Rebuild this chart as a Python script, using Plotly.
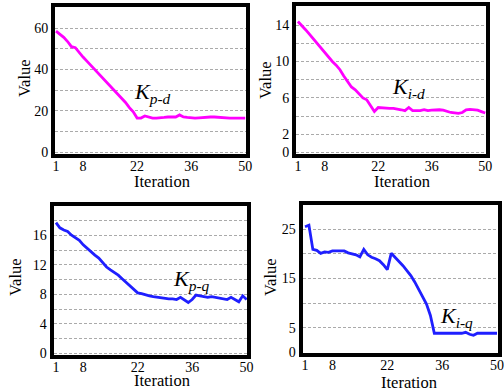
import plotly.graph_objects as go

W, H = 504, 389

iterations = list(range(1, 51))

kp_d = [58.5, 57.0, 55.5, 53.5, 51.0, 50.5, 48.0, 46.0, 44.0, 42.0,
        40.0, 38.0, 36.0, 34.5, 32.5, 30.5, 28.0, 26.0, 24.0, 21.5,
        19.5, 16.5, 16.5, 17.5, 17.0, 16.5, 16.5, 16.8, 16.8, 17.0,
        17.0, 17.0, 18.0, 17.0, 16.8, 16.5, 16.5, 16.6, 16.8, 16.8,
        17.0, 17.0, 16.8, 16.6, 16.6, 16.5, 16.5, 16.5, 16.5, 16.5]

ki_d = [14.4, 14.0, 13.5, 13.0, 12.5, 12.0, 11.5, 10.9, 10.5, 10.0,
        9.6, 9.1, 8.4, 7.8, 7.2, 6.9, 6.4, 6.0, 5.8, 5.2,
        4.5, 4.95, 4.9, 4.9, 4.85, 4.85, 4.8, 4.7, 4.6, 4.95,
        4.6, 4.6, 4.6, 4.7, 4.6, 4.65, 4.7, 4.7, 4.65, 4.5,
        4.4, 4.35, 4.3, 4.4, 4.7, 4.75, 4.7, 4.65, 4.5, 4.35]

kp_q = [17.7, 17.0, 16.7, 16.5, 16.0, 15.6, 15.3, 14.7, 14.2, 13.7,
        13.3, 12.9, 12.3, 11.7, 11.3, 11.0, 10.6, 10.1, 9.6, 9.1,
        8.6, 8.2, 8.1, 8.0, 7.8, 7.7, 7.6, 7.5, 7.5, 7.4,
        7.4, 7.3, 7.6, 7.3, 6.9, 7.3, 7.9, 7.8, 7.7, 7.6,
        7.7, 7.6, 7.6, 7.4, 7.3, 7.6, 7.3, 7.0, 7.8, 7.3]

ki_q = [25.5, 25.8, 20.9, 20.7, 20.1, 20.4, 20.3, 20.6, 20.6, 20.6,
        20.6, 20.2, 20.0, 19.8, 19.4, 20.9, 19.8, 19.3, 19.0, 18.6,
        17.8, 16.8, 20.1, 19.3, 18.5, 17.6, 16.6, 15.6, 14.3, 12.9,
        11.4, 9.8, 7.5, 3.9, 3.9, 3.9, 3.9, 3.85, 3.85, 3.8,
        3.9, 4.1, 3.7, 3.5, 3.9, 3.9, 3.9, 3.9, 3.9, 3.9]

x_tickvals = [1, 8, 22, 36, 50]
x_ticktext = ["1", "8", "22", "36", "50"]

y1_vals = [0, 10, 20, 30, 40, 50, 60]
y1_text = ["0", "", "20", "", "40", "", "60"]
y2_vals = [0, 2, 4, 6, 8, 10, 12, 14]
y2_text = ["0", "2", "", "6", "", "10", "", "14"]
y3_vals = [0, 2, 4, 6, 8, 10, 12, 14, 16, 18, 20]
y3_text = ["0", "", "4", "", "8", "", "12", "", "16", "", "20"]
y4_vals = [0, 5, 10, 15, 20, 25]
y4_text = ["0", "5", "", "15", "", "25"]

series = [kp_d, ki_d, kp_q, ki_q]
labels = ["p-d", "i-d", "p-q", "i-q"]
colors = ["#ff00ff", "#ff00ff", "#1f1fff", "#1f1fff"]
yticks = [(y1_vals, y1_text), (y2_vals, y2_text), (y3_vals, y3_text), (y4_vals, y4_text)]

# plot boxes in pixels: left, right, top, bottom
boxes = [(55, 246, 7, 154), (296, 486, 6, 154), (53.5, 247, 206, 355), (302.5, 498, 204.5, 353)]
xranges = [[0.74, 50.2], [0.5, 50.2], [0.36, 50.1], [0.36, 50.25]]
yranges = [[-0.9, 70.2], [-0.16, 16.1], [-0.2, 19.95], [-0.1, 30]]
label_pos = [(132, 93), (390, 88), (171, 280), (438, 317)]
ytitle_pos = [(24, 78), (265, 80), (15, 277), (270, 277)]
xtitle_pos = [(162, 182), (402, 182), (162, 380), (409, 382)]

FONT = "Liberation Serif, Times New Roman, serif"
fig = go.Figure()
layout = dict(template="none", width=W, height=H, margin=dict(l=0, r=0, t=0, b=0, autoexpand=False),
              paper_bgcolor="white", plot_bgcolor="white", showlegend=False,
              font=dict(family=FONT, color="black"))
annotations = []
for k in range(4):
    n = "" if k == 0 else str(k + 1)
    l, r, t, b = boxes[k]
    fig.add_trace(go.Scatter(x=iterations, y=series[k], mode="lines",
                             line=dict(color=colors[k], width=2.8),
                             xaxis="x" + n, yaxis="y" + n))
    layout["xaxis" + n] = dict(domain=[l / W, r / W], range=xranges[k], anchor="y" + n,
                               tickvals=x_tickvals, ticktext=x_ticktext, showgrid=False,
                               zeroline=False, showline=True, mirror=True, linecolor="black",
                               linewidth=4, ticks="", ticklen=0, automargin=False,
                               ticklabelstandoff=-4, ticklabeloverflow="allow",
                               tickfont=dict(size=14, family=FONT, color="black"))
    layout["yaxis" + n] = dict(domain=[1 - b / H, 1 - t / H], range=yranges[k], anchor="x" + n,
                               tickvals=yticks[k][0], ticktext=yticks[k][1], showgrid=True,
                               gridcolor="#aaaaaa", gridwidth=1, griddash="3px,2px",
                               zeroline=False, showline=True, mirror=True, linecolor="black",
                               linewidth=4, ticks="", ticklen=0, automargin=False,
                               ticklabeloverflow="allow",
                               tickfont=dict(size=14, family=FONT, color="black"))
    lx, ly = label_pos[k]
    annotations.append(dict(text="<i>K</i><sub><i>" + labels[k] + "</i></sub>", x=lx / W, y=1 - ly / H,
                            xref="paper", yref="paper", xanchor="left", yanchor="middle",
                            showarrow=False, font=dict(size=22, family=FONT, color="black")))
    tx, ty = ytitle_pos[k]
    annotations.append(dict(text="Value", x=tx / W, y=1 - ty / H, xref="paper", yref="paper",
                            xanchor="center", yanchor="middle", textangle=-90, showarrow=False,
                            font=dict(size=16.5, family=FONT, color="black")))
    tx, ty = xtitle_pos[k]
    annotations.append(dict(text="Iteration", x=tx / W, y=1 - ty / H, xref="paper", yref="paper",
                            xanchor="center", yanchor="middle", showarrow=False,
                            font=dict(size=16.5, family=FONT, color="black")))
layout["annotations"] = annotations
fig.update_layout(**layout)
fig.write_html("out.html", config={"displayModeBar": False},
               post_script="document.body.style.margin='0';document.body.style.padding='0';")
